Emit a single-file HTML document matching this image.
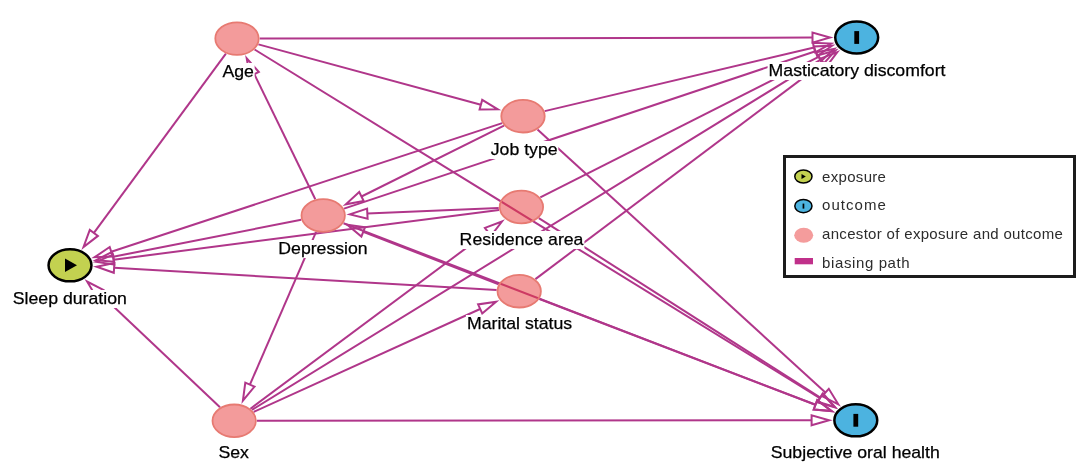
<!DOCTYPE html>
<html><head><meta charset="utf-8"><style>
html,body{margin:0;padding:0;background:#fff;}
body{width:1087px;height:473px;position:relative;overflow:hidden;font-family:"Liberation Sans",sans-serif;}
.lab,.lt{will-change:transform;}
svg{position:absolute;left:0;top:0;}
.lab{position:absolute;width:300px;text-align:center;font-size:17px;line-height:18px;height:18px;color:#000;}
.lab span{background:#fff;padding:0 1px;display:inline-block;transform:scaleX(1.04);-webkit-text-stroke:0.25px #000;}
.leg{position:absolute;left:783.2px;top:155.1px;width:286.6px;height:116.6px;border:3px solid #1c1c1c;background:#fff;}
.lt{position:absolute;left:35.4px;font-size:15px;line-height:16px;color:#2c2c2c;white-space:nowrap;letter-spacing:0.4px;}
</style></head><body>
<svg width="1087" height="473" viewBox="0 0 1087 473">
<g fill="none" stroke="#b0368a" stroke-width="2" stroke-linejoin="miter">
<path d="M259.7 38.6L812.5 37.6"/>
<path d="M812.5 42.6L830.0 37.5L812.5 32.6Z"/>
<path d="M258.4 44.4L480.9 104.8"/>
<path d="M479.6 109.6L497.8 109.4L482.2 99.9Z"/>
<path d="M254.6 49.5L819.9 398.1"/>
<path d="M817.2 402.4L834.8 407.3L822.5 393.9Z"/>
<path d="M225.9 53.7L93.9 232.9"/>
<path d="M89.8 229.9L83.5 247.0L97.9 235.9Z"/>
<path d="M315.3 199.3L254.3 74.1"/>
<path d="M258.8 72.0L246.7 58.4L249.8 76.3Z"/>
<path d="M316.1 231.9L249.9 384.6"/>
<path d="M245.3 382.7L242.9 400.7L254.5 386.6Z"/>
<path d="M301.2 219.8L113.1 256.8"/>
<path d="M112.1 251.9L95.9 260.2L114.0 261.7Z"/>
<path d="M344.0 208.6L815.5 51.2"/>
<path d="M817.1 56.0L832.1 45.7L813.9 46.5Z"/>
<path d="M343.5 223.3L815.5 404.8"/>
<path d="M813.7 409.5L831.8 411.1L817.3 400.1Z"/>
<path d="M504.0 125.6L361.5 196.5"/>
<path d="M359.2 192.0L345.8 204.3L363.7 201.0Z"/>
<path d="M498.7 208.0L367.3 213.6"/>
<path d="M367.1 208.6L349.9 214.4L367.6 218.6Z"/>
<path d="M498.6 284.2L363.2 231.9"/>
<path d="M365.0 227.2L347.2 224.8L361.4 236.6Z"/>
<path d="M544.7 111.1L814.1 47.5"/>
<path d="M815.2 52.4L831.1 43.5L812.9 42.7Z"/>
<path d="M537.5 129.5L825.4 392.5"/>
<path d="M822.0 396.2L838.3 404.3L828.8 388.8Z"/>
<path d="M502.2 123.1L111.3 251.7"/>
<path d="M109.7 247.0L94.6 257.2L112.8 256.5Z"/>
<path d="M540.3 197.4L818.6 56.8"/>
<path d="M820.9 61.2L834.2 48.9L816.3 52.3Z"/>
<path d="M538.8 218.1L820.3 397.6"/>
<path d="M817.6 401.8L835.0 407.0L823.0 393.4Z"/>
<path d="M499.0 209.9L113.7 259.7"/>
<path d="M113.1 254.7L96.3 261.9L114.3 264.6Z"/>
<path d="M535.4 279.1L823.4 62.6"/>
<path d="M826.4 66.6L837.3 52.1L820.3 58.6Z"/>
<path d="M539.5 299.0L815.4 404.8"/>
<path d="M813.7 409.5L831.8 411.1L817.2 400.2Z"/>
<path d="M496.6 289.9L114.1 267.8"/>
<path d="M114.4 262.9L96.6 266.8L113.8 272.8Z"/>
<path d="M220.0 407.3L99.8 293.6"/>
<path d="M103.3 289.9L87.1 281.5L96.4 297.2Z"/>
<path d="M256.9 420.8L811.6 420.3"/>
<path d="M811.6 425.3L829.1 420.3L811.6 415.3Z"/>
<path d="M253.7 411.9L480.1 309.0"/>
<path d="M482.2 313.5L496.1 301.7L478.1 304.4Z"/>
<path d="M250.4 408.7L487.9 231.9"/>
<path d="M490.9 235.9L502.0 221.5L484.9 227.9Z"/>
<path d="M251.9 409.9L820.7 59.6"/>
<path d="M823.4 63.9L835.6 50.5L818.1 55.4Z"/>
</g>
<g><ellipse cx="237.0" cy="38.6" rx="21.7" ry="16.3" fill="#e83f3f" fill-opacity="0.52" stroke="#e77a72" stroke-width="1.8"/>
<ellipse cx="523.0" cy="116.2" rx="21.7" ry="16.3" fill="#e83f3f" fill-opacity="0.52" stroke="#e77a72" stroke-width="1.8"/>
<ellipse cx="323.2" cy="215.5" rx="21.7" ry="16.3" fill="#e83f3f" fill-opacity="0.52" stroke="#e77a72" stroke-width="1.8"/>
<ellipse cx="521.4" cy="207.0" rx="21.7" ry="16.3" fill="#e83f3f" fill-opacity="0.52" stroke="#e77a72" stroke-width="1.8"/>
<ellipse cx="519.2" cy="291.2" rx="21.7" ry="16.3" fill="#e83f3f" fill-opacity="0.52" stroke="#e77a72" stroke-width="1.8"/>
<ellipse cx="234.2" cy="420.8" rx="21.7" ry="16.3" fill="#e83f3f" fill-opacity="0.52" stroke="#e77a72" stroke-width="1.8"/>
<ellipse cx="70.0" cy="265.3" rx="21.45" ry="16.05" fill="#c3d150" stroke="#000" stroke-width="2.5"/>
<path d="M65.0 258.5L65.0 272.1L77.0 265.3Z" fill="#000"/>
<ellipse cx="856.7" cy="37.5" rx="21.45" ry="16.05" fill="#4cb3e0" stroke="#000" stroke-width="2.5"/>
<rect x="854.3000000000001" y="31.1" width="4.8" height="12.8" fill="#000"/>
<ellipse cx="855.8" cy="420.3" rx="21.45" ry="16.05" fill="#4cb3e0" stroke="#000" stroke-width="2.5"/>
<rect x="853.4" y="413.90000000000003" width="4.8" height="12.8" fill="#000"/></g>
</svg>
<div class="lab" style="left:87.5px;top:63.300000000000004px"><span>Age</span></div>
<div class="lab" style="left:373.6px;top:140.6px"><span>Job type</span></div>
<div class="lab" style="left:172.89999999999998px;top:240.29999999999998px"><span>Depression</span></div>
<div class="lab" style="left:372.0px;top:231.0px"><span>Residence area</span></div>
<div class="lab" style="left:370.20000000000005px;top:315.40000000000003px"><span>Marital status</span></div>
<div class="lab" style="left:84.19999999999999px;top:444.20000000000005px"><span>Sex</span></div>
<div class="lab" style="left:-80.0px;top:289.5px"><span>Sleep duration</span></div>
<div class="lab" style="left:706.5px;top:61.5px"><span>Masticatory discomfort</span></div>
<div class="lab" style="left:704.7px;top:444.40000000000003px"><span>Subjective oral health</span></div>
<div class="leg">
<svg width="287" height="117" style="position:absolute;left:-0.6px;top:-1px">
<ellipse cx="17.4" cy="19.5" rx="8.6" ry="6.6" fill="#c3d150" stroke="#000" stroke-width="1.5"/>
<path d="M15.5 17L15.5 22L19.8 19.5Z" fill="#000"/>
<ellipse cx="17.4" cy="49.1" rx="8.6" ry="6.6" fill="#4cb3e0" stroke="#000" stroke-width="1.5"/>
<rect x="16.6" y="46.6" width="1.7" height="5" fill="#000"/>
<ellipse cx="17.7" cy="78.2" rx="9.5" ry="7.5" fill="#f49c9c"/>
<rect x="8.7" y="101" width="18.3" height="6.3" fill="#c0308a"/>
</svg>
<div class="lt" style="top:10.6px;letter-spacing:0.32px">exposure</div>
<div class="lt" style="top:39.4px;letter-spacing:1.05px">outcome</div>
<div class="lt" style="top:68.2px;letter-spacing:0.32px">ancestor of exposure and outcome</div>
<div class="lt" style="top:97.2px;letter-spacing:0.62px">biasing path</div>
</div>
</body></html>
